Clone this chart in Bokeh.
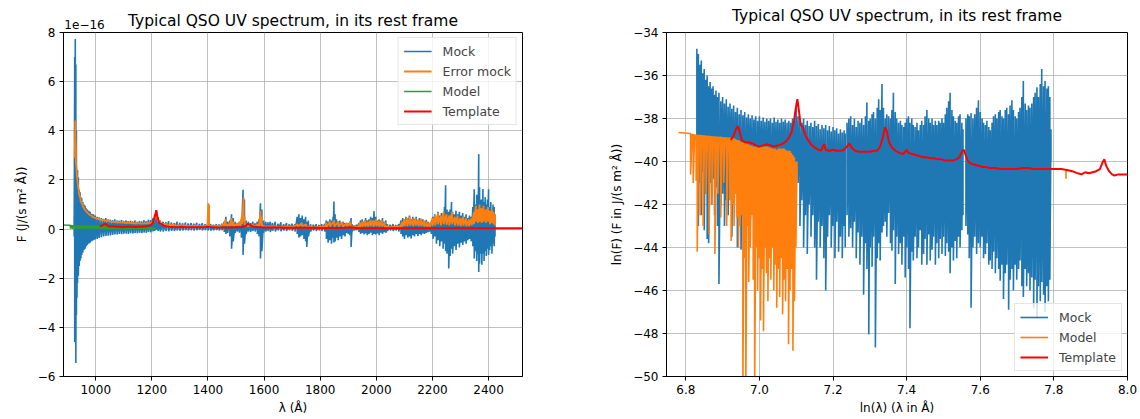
import math
from bokeh.plotting import figure
from bokeh.layouts import row
from bokeh.models import (Range1d, FixedTicker, Legend, LegendItem, LinearAxis,
                          CustomJSTickFormatter)
from bokeh.embed import file_html
from bokeh.resources import INLINE

NaN = float("nan")
FONT = "DejaVu Sans"
C_BLUE, C_ORANGE, C_GREEN, C_RED = "#1f77b4", "#ff7f0e", "#2ca02c", "#ff0000"

TITLE = "Typical QSO UV spectrum, in its rest frame"
OFFSET_TEXT = "1e\u221216"

# ---------------- Left panel data (lambda in Angstrom, F in 1e-16 J/(s m^2 A)) ----------------
mock_lam = [
    923, 925, 927, 929, 931, 933, 935, 938, 941, 944,
    947, 950, 954, 958, 962, 966, 970, 975, 980, 986,
    992, 998, 1005, 1012, 1020, 1028, 1036, 1044, 1052, 1060,
    1068, 1076, 1084, 1092, 1100, 1108, 1116, 1124, 1132, 1140,
    1148, 1156, 1164, 1172, 1180, 1188, 1196, 1204, 1210, 1216,
    1222, 1230, 1240, 1250, 1260, 1270, 1280, 1290, 1300, 1310,
    1320, 1330, 1340, 1350, 1360, 1370, 1380, 1390, 1400, 1410,
    1420, 1430, 1440, 1450, 1458, 1464, 1470, 1478, 1484, 1490,
    1497, 1505, 1512, 1519, 1525, 1530, 1536, 1544, 1552, 1560,
    1568, 1576, 1582, 1587, 1592, 1598, 1606, 1614, 1622, 1630,
    1640, 1650, 1660, 1670, 1680, 1690, 1700, 1710, 1718, 1724,
    1730, 1736, 1742, 1748, 1752, 1758, 1766, 1776, 1786, 1796,
    1806, 1816, 1822, 1828, 1834, 1840, 1846, 1849, 1853, 1858,
    1864, 1870, 1876, 1882, 1888, 1894, 1900, 1906, 1910, 1914,
    1922, 1930, 1938, 1944, 1950, 1956, 1962, 1968, 1974, 1980,
    1986, 1992, 1998, 2004, 2010, 2016, 2022, 2028, 2034, 2040,
    2050, 2060, 2070, 2080, 2088, 2094, 2100, 2106, 2112, 2118,
    2124, 2130, 2136, 2142, 2148, 2154, 2160, 2166, 2172, 2178,
    2184, 2190, 2196, 2202, 2208, 2214, 2220, 2226, 2232, 2238,
    2243, 2247, 2252, 2258, 2263, 2268, 2272, 2278, 2284, 2290,
    2296, 2302, 2308, 2314, 2320, 2326, 2332, 2338, 2344, 2349,
    2354, 2358, 2362, 2365, 2368, 2372, 2376, 2380, 2384, 2388,
    2392, 2396, 2400, 2404, 2408, 2412, 2416, 2420, 2423,
]
mock_hi = [
    0.5, 7.0, 7.74, 6.7, 4.0, 2.4, 2.4, 2.1, 1.6, 1.5,
    1.3, 1.25, 1.1, 1.0, 0.95, 0.85, 0.8, 0.75, 0.7, 0.62,
    0.6, 0.55, 0.5, 0.48, 0.45, 0.42, 0.45, 0.4, 0.38, 0.36,
    0.4, 0.35, 0.34, 0.37, 0.33, 0.35, 0.32, 0.34, 0.31, 0.35,
    0.3, 0.33, 0.31, 0.36, 0.32, 0.38, 0.36, 0.45, 0.6, 0.75,
    0.4, 0.35, 0.3, 0.28, 0.32, 0.27, 0.25, 0.3, 0.26, 0.24,
    0.27, 0.23, 0.25, 0.22, 0.26, 0.21, 0.24, 0.2, 0.22, 0.2,
    0.18, 0.2, 0.19, 0.22, 0.3, 0.5, 0.3, 0.35, 0.6, 0.45,
    0.3, 0.25, 0.3, 0.4, 1.6, 1.2, 0.35, 0.3, 0.25, 0.3,
    0.24, 0.3, 0.4, 1.05, 0.8, 0.35, 0.3, 0.28, 0.3, 0.25,
    0.3, 0.22, 0.28, 0.2, 0.25, 0.2, 0.22, 0.2, 0.5, 0.6,
    0.45, 0.55, 0.4, 0.5, 0.3, 0.35, 0.2, 0.18, 0.2, 0.17,
    0.2, 0.22, 0.35, 0.3, 0.4, 0.35, 0.5, 1.12, 0.6, 0.4,
    0.3, 0.35, 0.25, 0.3, 0.25, 0.2, 0.25, 0.3, 0.45, 0.2,
    0.15, 0.18, 0.25, 0.35, 0.4, 0.3, 0.45, 0.35, 0.4, 0.5,
    0.45, 0.73, 0.5, 0.35, 0.4, 0.35, 0.45, 0.3, 0.35, 0.2,
    0.18, 0.2, 0.17, 0.2, 0.35, 0.45, 0.4, 0.5, 0.45, 0.55,
    0.4, 0.5, 0.42, 0.5, 0.38, 0.45, 0.35, 0.4, 0.3, 0.38,
    0.3, 0.25, 0.3, 0.5, 0.6, 0.5, 0.7, 0.55, 0.65, 0.6,
    0.9, 1.78, 0.8, 0.7, 0.8, 1.1, 0.7, 0.6, 0.75, 0.6,
    0.7, 0.55, 0.65, 0.5, 0.6, 0.45, 0.55, 0.5, 0.9, 1.62,
    1.0, 1.4, 1.2, 3.05, 1.7, 1.2, 1.2, 1.63, 1.1, 1.3,
    1.0, 1.2, 1.62, 0.9, 1.1, 0.8, 1.0, 0.9, 0.6,
]
mock_lo = [
    -0.3, -4.6, -2.0, -5.45, -3.5, -2.8, -2.2, -1.9, -1.5, -1.3,
    -1.2, -1.05, -0.95, -0.85, -0.8, -0.7, -0.65, -0.6, -0.55, -0.5,
    -0.45, -0.42, -0.4, -0.36, -0.33, -0.3, -0.28, -0.27, -0.26, -0.24,
    -0.22, -0.22, -0.2, -0.21, -0.19, -0.18, -0.2, -0.17, -0.18, -0.16,
    -0.17, -0.15, -0.16, -0.14, -0.15, -0.12, -0.13, -0.1, -0.08, -0.02,
    -0.08, -0.1, -0.1, -0.08, -0.09, -0.07, -0.08, -0.06, -0.07, -0.06,
    -0.05, -0.06, -0.05, -0.06, -0.05, -0.04, -0.05, -0.04, -0.05, -0.06,
    -0.05, -0.04, -0.06, -0.05, -0.12, -0.2, -0.15, -0.3, -0.8, -0.5,
    -0.15, -0.1, -0.15, -0.35, -1.05, -0.6, -0.2, -0.1, -0.12, -0.08,
    -0.1, -0.2, -0.3, -1.2, -0.9, -0.15, -0.1, -0.08, -0.12, -0.07,
    -0.1, -0.06, -0.09, -0.06, -0.08, -0.05, -0.07, -0.1, -0.2, -0.35,
    -0.3, -0.25, -0.4, -0.5, -0.73, -0.3, -0.1, -0.06, -0.08, -0.05,
    -0.08, -0.1, -0.4, -0.55, -0.45, -0.6, -0.35, -0.55, -0.5, -0.35,
    -0.45, -0.3, -0.4, -0.25, -0.3, -0.15, -0.2, -0.25, -0.73, -0.1,
    -0.06, -0.05, -0.12, -0.2, -0.15, -0.22, -0.18, -0.25, -0.2, -0.15,
    -0.25, -0.2, -0.22, -0.18, -0.25, -0.15, -0.2, -0.12, -0.15, -0.08,
    -0.06, -0.08, -0.05, -0.1, -0.2, -0.3, -0.4, -0.25, -0.35, -0.3,
    -0.38, -0.25, -0.3, -0.2, -0.28, -0.2, -0.25, -0.18, -0.2, -0.15,
    -0.12, -0.1, -0.2, -0.4, -0.3, -0.6, -0.45, -0.7, -0.5, -0.8,
    -0.6, -0.9, -1.0, -1.6, -1.1, -0.8, -1.0, -0.7, -0.85, -0.6,
    -0.75, -0.55, -0.65, -0.5, -0.6, -0.45, -0.4, -0.5, -0.7, -1.2,
    -0.9, -1.3, -1.0, -1.75, -1.4, -1.0, -1.45, -1.0, -1.3, -0.9,
    -1.1, -0.8, -1.05, -0.85, -0.7, -1.0, -0.6, -0.7, -0.3,
]

err_lam = [
    925, 927, 929, 932, 935, 940, 946, 953, 960, 968,
    977, 988, 1000, 1015, 1030, 1050, 1075, 1100, 1130, 1160,
    1190, 1205, 1212, 1216, 1222, 1232, 1250, 1280, 1320, 1360,
    1398, 1401, 1404, 1408, 1440, 1458, 1463, 1468, 1478, 1484,
    1490, 1505, 1515, 1522, 1527, 1531, 1540, 1560, 1582, 1587,
    1592, 1598, 1640, 1700, 1720, 1735, 1750, 1770, 1815, 1822,
    1835, 1850, 1865, 1880, 1895, 1908, 1914, 1935, 1942, 1950,
    1960, 1970, 1980, 1990, 2000, 2010, 2020, 2030, 2040, 2085,
    2092, 2100, 2110, 2120, 2130, 2140, 2150, 2160, 2170, 2180,
    2190, 2200, 2210, 2220, 2230, 2240, 2250, 2260, 2270, 2280,
    2290, 2300, 2310, 2320, 2330, 2340, 2348, 2355, 2362, 2368,
    2375, 2382, 2390, 2398, 2405, 2412, 2418, 2423,
]
err_hi = [
    2.9, 4.42, 3.2, 2.4, 1.95, 1.5, 1.2, 0.98, 0.82, 0.7,
    0.6, 0.52, 0.45, 0.4, 0.36, 0.32, 0.29, 0.27, 0.25, 0.24,
    0.24, 0.3, 0.5, 0.7, 0.4, 0.28, 0.2, 0.17, 0.15, 0.14,
    0.14, 1.05, 1.0, 0.14, 0.14, 0.2, 0.4, 0.2, 0.22, 0.45,
    0.3, 0.22, 0.3, 0.6, 1.3, 0.5, 0.2, 0.18, 0.2, 0.75,
    0.5, 0.15, 0.12, 0.11, 0.2, 0.25, 0.2, 0.1, 0.1, 0.25,
    0.3, 0.35, 0.3, 0.28, 0.25, 0.3, 0.1, 0.1, 0.25, 0.3,
    0.35, 0.3, 0.38, 0.35, 0.4, 0.32, 0.35, 0.28, 0.12, 0.12,
    0.3, 0.4, 0.45, 0.5, 0.4, 0.45, 0.38, 0.42, 0.35, 0.3,
    0.25, 0.45, 0.55, 0.65, 0.55, 0.7, 0.6, 0.55, 0.7, 0.5,
    0.55, 0.45, 0.5, 0.45, 0.4, 0.45, 0.7, 0.95, 0.8, 1.0,
    0.85, 0.95, 0.8, 0.9, 0.75, 0.8, 0.7, 0.6,
]
err_lo = [
    2.9, 4.0, 2.8, 2.3, 1.9, 1.45, 1.15, 0.95, 0.8, 0.68,
    0.58, 0.5, 0.43, 0.38, 0.34, 0.3, 0.27, 0.25, 0.23, 0.22,
    0.22, 0.26, 0.4, 0.55, 0.3, 0.22, 0.16, 0.14, 0.12, 0.11,
    0.11, 0.15, 0.12, 0.1, 0.1, 0.12, 0.15, 0.12, 0.12, 0.15,
    0.12, 0.12, 0.12, 0.2, 0.3, 0.15, 0.12, 0.1, 0.1, 0.15,
    0.12, 0.1, 0.08, 0.07, 0.08, 0.1, 0.08, 0.06, 0.06, 0.08,
    0.1, 0.1, 0.1, 0.08, 0.08, 0.08, 0.05, 0.05, 0.08, 0.1,
    0.1, 0.1, 0.12, 0.1, 0.12, 0.1, 0.1, 0.08, 0.06, 0.06,
    0.1, 0.12, 0.12, 0.15, 0.12, 0.15, 0.12, 0.12, 0.1, 0.1,
    0.08, 0.12, 0.15, 0.2, 0.15, 0.2, 0.18, 0.15, 0.2, 0.15,
    0.15, 0.12, 0.15, 0.12, 0.12, 0.15, 0.2, 0.3, 0.25, 0.3,
    0.25, 0.3, 0.25, 0.3, 0.2, 0.25, 0.2, 0.15,
]

# ---------------- Right panel data (ln(lambda), ln(F)) ----------------
mockr_x = [
    6.830, 6.834, 6.838, 6.842, 6.846, 6.850, 6.854, 6.858, 6.862, 6.866,
    6.870, 6.874, 6.878, 6.882, 6.886, 6.890, 6.895, 6.900, 6.905, 6.910,
    6.915, 6.920, 6.925, 6.930, 6.935, 6.940, 6.945, 6.950, 6.955, 6.960,
    6.965, 6.970, 6.975, 6.980, 6.985, 6.990, 6.995, 7.000, 7.005, 7.010,
    7.015, 7.020, 7.025, 7.030, 7.035, 7.040, 7.045, 7.050, 7.055, 7.060,
    7.065, 7.070, 7.075, 7.080, 7.085, 7.090, 7.095, 7.100, 7.105, 7.110,
    7.115, 7.120, 7.125, 7.130, 7.135, 7.140, 7.145, 7.150, 7.155, 7.160,
    7.165, 7.170, 7.175, 7.180, 7.185, 7.190, 7.195, 7.200, 7.205, 7.210,
    7.215, 7.220, 7.225, 7.230, 7.233, None,
    7.238, 7.243, 7.248, 7.253, 7.258, 7.263, 7.268, 7.273, 7.278, 7.283,
    7.288, 7.292, 7.297, 7.301, 7.306, 7.310, 7.315, 7.320, 7.324, 7.328,
    7.333, 7.337, 7.342, 7.346, 7.351, 7.356, 7.360, 7.364, 7.369, 7.373,
    7.378, 7.383, 7.387, 7.392, 7.396, 7.400, 7.405, 7.409, 7.414, 7.418,
    7.423, 7.428, 7.432, 7.437, 7.441, 7.446, 7.450, 7.455, 7.460, 7.464,
    7.469, 7.473, 7.478, 7.482, 7.487, 7.491, 7.496, 7.500, 7.505, 7.509,
    7.514, 7.518, 7.523, 7.527, 7.532, 7.536, 7.541, 7.545, 7.550, 7.553, None,
    7.561, 7.566, 7.570, 7.575, 7.580, 7.585, 7.590, 7.595, 7.600, 7.605,
    7.609, 7.614, 7.618, 7.623, 7.627, 7.632, 7.636, 7.641, 7.645, 7.650,
    7.654, 7.659, 7.663, 7.668, 7.672, 7.677, 7.681, 7.686, 7.690, 7.695,
    7.699, 7.704, 7.708, 7.713, 7.717, 7.722, 7.726, 7.731, 7.735, 7.740,
    7.745, 7.749, 7.754, 7.758, 7.763, 7.767, 7.772, 7.776, 7.781, 7.785,
    7.789, 7.792,
]
mockr_hi = [
    -34.75, -35.0, -35.5, -35.3, -35.9, -35.7, -36.2, -36.0, -36.5, -36.3,
    -36.6, -36.5, -36.9, -36.7, -37.0, -36.8, -37.2, -37.0, -37.3, -37.1,
    -37.45, -37.3, -37.55, -37.4, -37.7, -37.5, -37.8, -37.6, -37.85, -37.7,
    -37.95, -37.8, -38.0, -37.85, -38.05, -37.9, -38.1, -37.9, -38.1, -37.95,
    -38.15, -38.0, -38.1, -38.0, -38.2, -37.95, -38.15, -38.05, -38.2, -38.0,
    -38.15, -38.05, -38.2, -38.1, -38.2, -38.0, -38.1, -37.5, -37.9, -38.1,
    -38.2, -38.0, -38.3, -38.1, -38.35, -38.2, -38.4, -38.1, -38.35, -38.25,
    -38.5, -38.3, -38.45, -38.3, -38.55, -38.35, -38.6, -38.4, -38.55, -38.45,
    -38.7, -38.5, -38.65, -38.55, -38.7, None,
    -38.2, -38.0, -37.9, -38.3, -38.0, -38.4, -38.1, -38.2, -38.0, -38.3,
    -37.9, -37.25, -38.1, -38.0, -37.8, -37.7, -38.0, -37.5, -37.1, -37.6,
    -36.4, -37.5, -38.0, -37.8, -37.9, -38.0, -37.6, -36.8, -37.7, -38.0,
    -38.2, -38.1, -38.3, -38.4, -38.2, -38.0, -37.9, -38.2, -38.0, -38.3,
    -38.4, -38.2, -38.55, -38.3, -38.1, -38.3, -37.9, -37.6, -38.0, -38.2,
    -38.0, -38.3, -38.1, -38.3, -38.1, -38.2, -38.0, -38.2, -37.8, -37.5,
    -37.2, -36.8, -37.6, -37.9, -38.1, -38.2, -37.9, -37.8, -38.2, -38.5, None,
    -38.0, -37.8, -37.9, -37.75, -38.0, -37.8, -37.5, -37.15, -37.7, -38.0,
    -38.2, -38.3, -38.1, -38.4, -38.55, -38.2, -37.9, -37.8, -38.0, -37.7,
    -37.6, -37.9, -38.0, -37.6, -37.5, -37.8, -37.4, -37.15, -37.6, -37.9,
    -38.0, -37.7, -37.5, -37.0, -36.25, -37.3, -37.6, -37.4, -37.5, -37.3,
    -37.0, -36.8, -36.55, -37.0, -36.4, -35.7, -36.5, -36.25, -36.6, -36.5,
    -37.0, -38.5,
]
mockr_lo = [
    -39.0, -43.0, -41.0, -42.5, -40.5, -43.2, -41.5, -43.6, -43.8, -41.0,
    -42.0, -40.8, -42.5, -41.2, -43.0, -45.7, -42.0, -41.5, -43.0, -41.8,
    -42.5, -41.0, -43.5, -42.0, -41.5, -44.0, -42.2, -44.1, -41.5, -43.0,
    -42.0, -41.2, -43.0, -42.0, -41.0, -43.5, -42.0, -41.5, -42.8, -41.0,
    -43.0, -42.0, -41.5, -43.2, -42.0, -41.8, -42.5, -41.3, -43.0, -42.0,
    -41.5, -42.8, -41.8, -42.5, -41.0, -42.0, -41.0, -40.5, -41.0, -43.0,
    -41.8, -44.0, -42.5, -44.3, -42.0, -43.5, -42.5, -44.0, -45.5, -42.8,
    -44.0, -43.0, -44.5, -46.0, -43.5, -42.5, -44.0, -43.0, -44.5, -42.8,
    -44.2, -43.5, -44.5, -43.0, -44.0, None,
    -42.5, -43.5, -43.1, -44.0, -42.8, -44.5, -43.3, -44.8, -43.5, -46.2,
    -43.8, -45.0, -48.05, -44.0, -44.9, -43.5, -48.65, -44.5, -43.8, -44.6,
    -43.3, -43.0, -42.8, -43.5, -42.4, -43.8, -44.15, -43.2, -45.7, -43.5,
    -44.3, -43.8, -44.8, -43.5, -45.4, -44.0, -45.0, -47.75, -44.2, -44.6,
    -43.5, -44.5, -44.0, -43.2, -44.8, -44.3, -43.6, -44.8, -43.4, -44.6,
    -44.1, -43.5, -44.8, -43.8, -44.5, -43.6, -44.3, -43.5, -44.4, -43.8,
    -44.2, -45.2, -44.0, -44.6, -43.7, -44.5, -43.5, -44.0, -43.2, -42.5, None,
    -43.0, -43.4, -44.5, -46.8, -44.0, -43.5, -44.3, -43.8, -44.0, -43.5,
    -44.5, -44.3, -43.8, -44.8, -44.6, -45.0, -44.2, -45.2, -44.5, -45.0,
    -45.55, -44.8, -46.4, -45.2, -44.8, -46.9, -45.5, -45.0, -46.0, -44.8,
    -45.5, -45.0, -44.6, -45.8, -46.3, -45.0, -45.8, -45.2, -46.0, -45.4,
    -46.8, -45.5, -47.3, -45.8, -46.5, -45.6, -46.2, -47.0, -45.8, -46.5,
    -45.5, -40.0,
]

model_x = [
    6.780, 6.810, 6.813, 6.817, 6.820, 6.824, 6.828, 6.831, 6.835, 6.839,
    6.843, 6.847, 6.851, 6.855, 6.859, 6.863, 6.867, 6.871, 6.875, 6.879,
    6.883, 6.887, 6.891, 6.895, 6.899, 6.903, 6.907, 6.911, 6.915, 6.919,
    6.923, 6.927, 6.931, 6.935, 6.939, 6.943, 6.947, 6.951, 6.955, 6.959,
    6.963, 6.967, 6.971, 6.975, 6.979, 6.983, 6.987, 6.991, 6.995, 6.999,
    7.003, 7.007, 7.011, 7.015, 7.019, 7.023, 7.027, 7.031, 7.035, 7.039,
    7.043, 7.047, 7.051, 7.055, 7.059, 7.063, 7.067, 7.071, 7.075, 7.079,
    7.083, 7.087, 7.091, 7.095, 7.099, 7.102, None, 7.833,
]
model_hi = [
    -38.65, -38.70, -38.70, -38.72, -38.72, -38.73, -38.74, -38.75, -38.75, -38.76,
    -38.77, -38.78, -38.78, -38.79, -38.80, -38.80, -38.81, -38.82, -38.82, -38.83,
    -38.84, -38.84, -38.85, -38.85, -38.86, -38.86, -38.87, -38.87, -38.88, -38.88,
    -38.90, -38.90, -38.92, -38.95, -39.00, -39.00, -39.05, -39.10, -39.10, -39.15,
    -39.15, -39.20, -39.20, -39.25, -39.25, -39.30, -39.30, -39.30, -39.35, -39.35,
    -39.30, -39.30, -39.30, -39.30, -39.30, -39.30, -39.35, -39.35, -39.40, -39.40,
    -39.40, -39.45, -39.40, -39.40, -39.40, -39.40, -39.40, -39.45, -39.50, -39.50,
    -39.50, -39.60, -39.70, -39.80, -40.00, -40.00, None, -40.35,
]
model_lo = [
    -38.65, -38.70, -40.6, -38.9, -41.0, -39.0, -40.9, -44.2, -39.2, -42.5,
    -39.3, -43.0, -39.5, -41.5, -39.2, -43.4, -39.4, -42.0, -39.3, -44.3,
    -39.5, -41.5, -39.2, -42.6, -39.6, -41.0, -39.3, -43.0, -39.5, -41.8,
    -43.7, -42.0, -43.0, -41.5, -42.6, -44.0, -43.0, -42.5, -50.5, -44.5,
    -50.5, -43.0, -45.6, -44.0, -42.5, -45.5, -50.5, -44.0, -46.0, -44.5,
    -47.4, -45.0, -47.9, -44.0, -45.2, -46.5, -44.5, -45.5, -44.0, -46.0,
    -44.8, -46.8, -45.0, -46.3, -44.5, -47.1, -45.5, -46.5, -45.0, -48.5,
    -46.0, -45.0, -48.8, -46.5, -44.0, -40.0, None, -40.8,
]

tmpl_lnlam = [
    6.922, 6.930, 6.936, 6.941, 6.946, 6.952, 6.960, 6.970, 6.980, 6.990,
    7.000, 7.010, 7.020, 7.030, 7.040, 7.050, 7.060, 7.070, 7.080, 7.088,
    7.094, 7.099, 7.103, 7.107, 7.112, 7.118, 7.125, 7.132, 7.140, 7.150,
    7.160, 7.168, 7.172, 7.176, 7.180, 7.190, 7.200, 7.210, 7.220, 7.230,
    7.238, 7.244, 7.250, 7.260, 7.270, 7.280, 7.290, 7.300, 7.310, 7.320,
    7.328, 7.335, 7.341, 7.346, 7.352, 7.360, 7.370, 7.380, 7.390, 7.396,
    7.400, 7.405, 7.415, 7.425, 7.435, 7.445, 7.455, 7.465, 7.475, 7.485,
    7.495, 7.505, 7.515, 7.525, 7.535, 7.543, 7.550, 7.555, 7.560, 7.567,
    7.575, 7.585, 7.595, 7.605, 7.615, 7.625, 7.640, 7.655, 7.670, 7.685,
    7.700, 7.715, 7.730, 7.745, 7.760, 7.775, 7.790, 7.805, 7.820, 7.835,
    7.850, 7.865, 7.875, 7.885, 7.895, 7.905, 7.915, 7.925, 7.932, 7.937,
    7.942, 7.950, 7.958, 7.965, 7.975, 7.985, 8.000,
]
tmpl_lnF = [
    -39.0, -38.8, -38.5, -38.35, -38.6, -39.0, -39.1, -39.1, -39.15, -39.25,
    -39.3, -39.25, -39.2, -39.25, -39.3, -39.25, -39.2, -39.1, -38.9, -38.6,
    -38.1, -37.5, -37.1, -37.6, -38.3, -38.4, -38.8, -39.0, -39.2, -39.35,
    -39.45, -39.5, -39.3, -39.2, -39.45, -39.5, -39.45, -39.5, -39.5, -39.45,
    -39.3, -39.15, -39.35, -39.5, -39.55, -39.55, -39.55, -39.55, -39.5, -39.5,
    -39.3, -38.9, -38.4, -38.6, -39.1, -39.35, -39.5, -39.6, -39.65, -39.55,
    -39.45, -39.6, -39.65, -39.7, -39.75, -39.8, -39.8, -39.85, -39.85, -39.9,
    -39.9, -39.95, -39.95, -39.95, -39.9, -39.8, -39.55, -39.45, -39.7, -40.0,
    -40.1, -40.15, -40.2, -40.25, -40.25, -40.3, -40.3, -40.35, -40.35, -40.35,
    -40.35, -40.3, -40.3, -40.35, -40.35, -40.35, -40.35, -40.35, -40.35, -40.4,
    -40.45, -40.55, -40.6, -40.5, -40.55, -40.5, -40.45, -40.35, -40.05, -39.9,
    -40.2, -40.45, -40.6, -40.65, -40.6, -40.6, -40.6,
]

left_xticks = [1000, 1200, 1400, 1600, 1800, 2000, 2200, 2400]
left_yticks = [-6, -4, -2, 0, 2, 4, 6, 8]
right_xticks = [6.8, 7.0, 7.2, 7.4, 7.6, 7.8, 8.0]
right_yticks = [-50, -48, -46, -44, -42, -40, -38, -36, -34]

assert len(mock_lam) == len(mock_hi) == len(mock_lo)
assert len(err_lam) == len(err_hi) == len(err_lo)
assert len(mockr_x) == len(mockr_hi) == len(mockr_lo)
assert len(model_x) == len(model_hi) == len(model_lo)
assert len(tmpl_lnlam) == len(tmpl_lnF)


def zigzag(xs, his, los, fx=lambda v: v, fy=lambda v: v):
    X, Y = [], []
    for x, h, l in zip(xs, his, los):
        if x is None:
            X.append(NaN)
            Y.append(NaN)
            continue
        X += [fx(x), fx(x)]
        Y += [fy(h), fy(l)]
    return X, Y


to_lin = lambda v: math.exp(v) * 1e16


def fmt(digits):
    return CustomJSTickFormatter(
        code="return (tick < 0 ? '\\u2212' : '') + Math.abs(tick).toFixed(%d);" % digits)


def style(p, xticks, yticks, xd, yd, xlabel, ylabel):
    xt = FixedTicker(ticks=xticks)
    yt = FixedTicker(ticks=yticks)
    p.xaxis.ticker = xt
    p.yaxis.ticker = yt
    p.xgrid.ticker = xt
    p.ygrid.ticker = yt
    p.xaxis.formatter = fmt(xd)
    p.yaxis.formatter = fmt(yd)
    p.xaxis.axis_label = xlabel
    p.yaxis.axis_label = ylabel
    for ax in (p.xaxis, p.yaxis):
        ax.major_tick_out = 4
        ax.major_tick_in = 0
        ax.minor_tick_out = 0
        ax.minor_tick_in = 0
        ax.major_tick_line_color = "black"
        ax.axis_line_color = "black"
        ax.major_label_text_font = FONT
        ax.major_label_text_font_size = "12px"
        ax.major_label_text_color = "black"
        ax.axis_label_text_font = FONT
        ax.axis_label_text_font_size = "12px"
        ax.axis_label_text_font_style = "normal"
        ax.axis_label_text_color = "black"
        ax.major_label_standoff = 4
    p.xaxis.axis_label_standoff = 4
    p.yaxis.axis_label_standoff = 6
    p.grid.grid_line_color = "#b0b0b0"
    p.grid.grid_line_width = 0.8
    p.outline_line_color = "black"
    p.outline_line_alpha = 1
    p.outline_line_width = 1


def add_header(p, tick_pos, tick_text):
    # top axis carrying the panel title (as axis label) and the offset text (as tick label)
    ax = LinearAxis(ticker=FixedTicker(ticks=[tick_pos]),
                    major_label_overrides={tick_pos: tick_text},
                    axis_line_color=None, major_tick_line_color=None,
                    major_tick_out=0, major_tick_in=0, minor_tick_out=0, minor_tick_in=0,
                    major_label_standoff=4, major_label_text_font=FONT,
                    major_label_text_font_size="12px", major_label_text_color="black",
                    axis_label=TITLE, axis_label_text_font=FONT,
                    axis_label_text_font_size="15.5px", axis_label_text_font_style="normal",
                    axis_label_text_color="black", axis_label_standoff=-13)
    p.add_layout(ax, "above")


def make_legend(items, loc):
    return Legend(items=items, location=loc, margin=5, padding=5, spacing=4,
                  glyph_width=28, glyph_height=16, label_height=16,
                  label_standoff=11, label_text_font=FONT,
                  label_text_font_size="12.5px", border_line_color="#cccccc",
                  border_line_width=1, background_fill_alpha=0.8)


# ---------------- Left figure ----------------
p1 = figure(width=560, height=419, x_range=Range1d(885, 2521), y_range=Range1d(-6, 8),
            output_backend="svg", toolbar_location=None, title=None,
            min_border_left=63, min_border_right=38, min_border_top=32, min_border_bottom=43)
style(p1, left_xticks, left_yticks, 0, 0, "\u03bb (\u00c5)", "F (J/(s m\u00b2 \u00c5))")
add_header(p1, 960, OFFSET_TEXT)

mx, my = zigzag(mock_lam, mock_hi, mock_lo)
r_mock = p1.line(mx, my, line_color=C_BLUE, line_width=1.6)
ex, ey = zigzag(err_lam, err_hi, err_lo)
r_err = p1.line(ex, ey, line_color=C_ORANGE, line_width=1.8)
gx, gy = zigzag(model_x, model_hi, model_lo, fx=math.exp, fy=to_lin)
r_model = p1.line(gx, gy, line_color=C_GREEN, line_width=1.6)
r_tmpl = p1.line([math.exp(v) for v in tmpl_lnlam], [to_lin(v) for v in tmpl_lnF],
                 line_color=C_RED, line_width=2)

p1.add_layout(make_legend([
    LegendItem(label="Mock", renderers=[r_mock]),
    LegendItem(label="Error mock", renderers=[r_err]),
    LegendItem(label="Model", renderers=[r_model]),
    LegendItem(label="Template", renderers=[r_tmpl]),
], "top_right"))

# ---------------- Right figure ----------------
p2 = figure(width=580, height=419, x_range=Range1d(6.7475, 8.0), y_range=Range1d(-50, -34),
            output_backend="svg", toolbar_location=None, title=None,
            min_border_left=106, min_border_right=13, min_border_top=32, min_border_bottom=43)
style(p2, right_xticks, right_yticks, 1, 0, "ln(\u03bb) (\u03bb in \u00c5)",
      "ln(F) (F in J/(s m\u00b2 \u00c5))")
add_header(p2, 7.0, "\u00a0")

rx, ry = zigzag(mockr_x, mockr_hi, mockr_lo)
r2_mock = p2.line(rx, ry, line_color=C_BLUE, line_width=1.6)
ox, oy = zigzag(model_x, model_hi, model_lo)
r2_model = p2.line(ox, oy, line_color=C_ORANGE, line_width=1.6)
r2_tmpl = p2.line(tmpl_lnlam, tmpl_lnF, line_color=C_RED, line_width=2)

p2.add_layout(make_legend([
    LegendItem(label="Mock", renderers=[r2_mock]),
    LegendItem(label="Model", renderers=[r2_model]),
    LegendItem(label="Template", renderers=[r2_tmpl]),
], "bottom_right"))

layout = row(p1, p2)
with open("out.html", "w", encoding="utf-8") as f:
    f.write(file_html(layout, INLINE, title="QSO spectrum"))
